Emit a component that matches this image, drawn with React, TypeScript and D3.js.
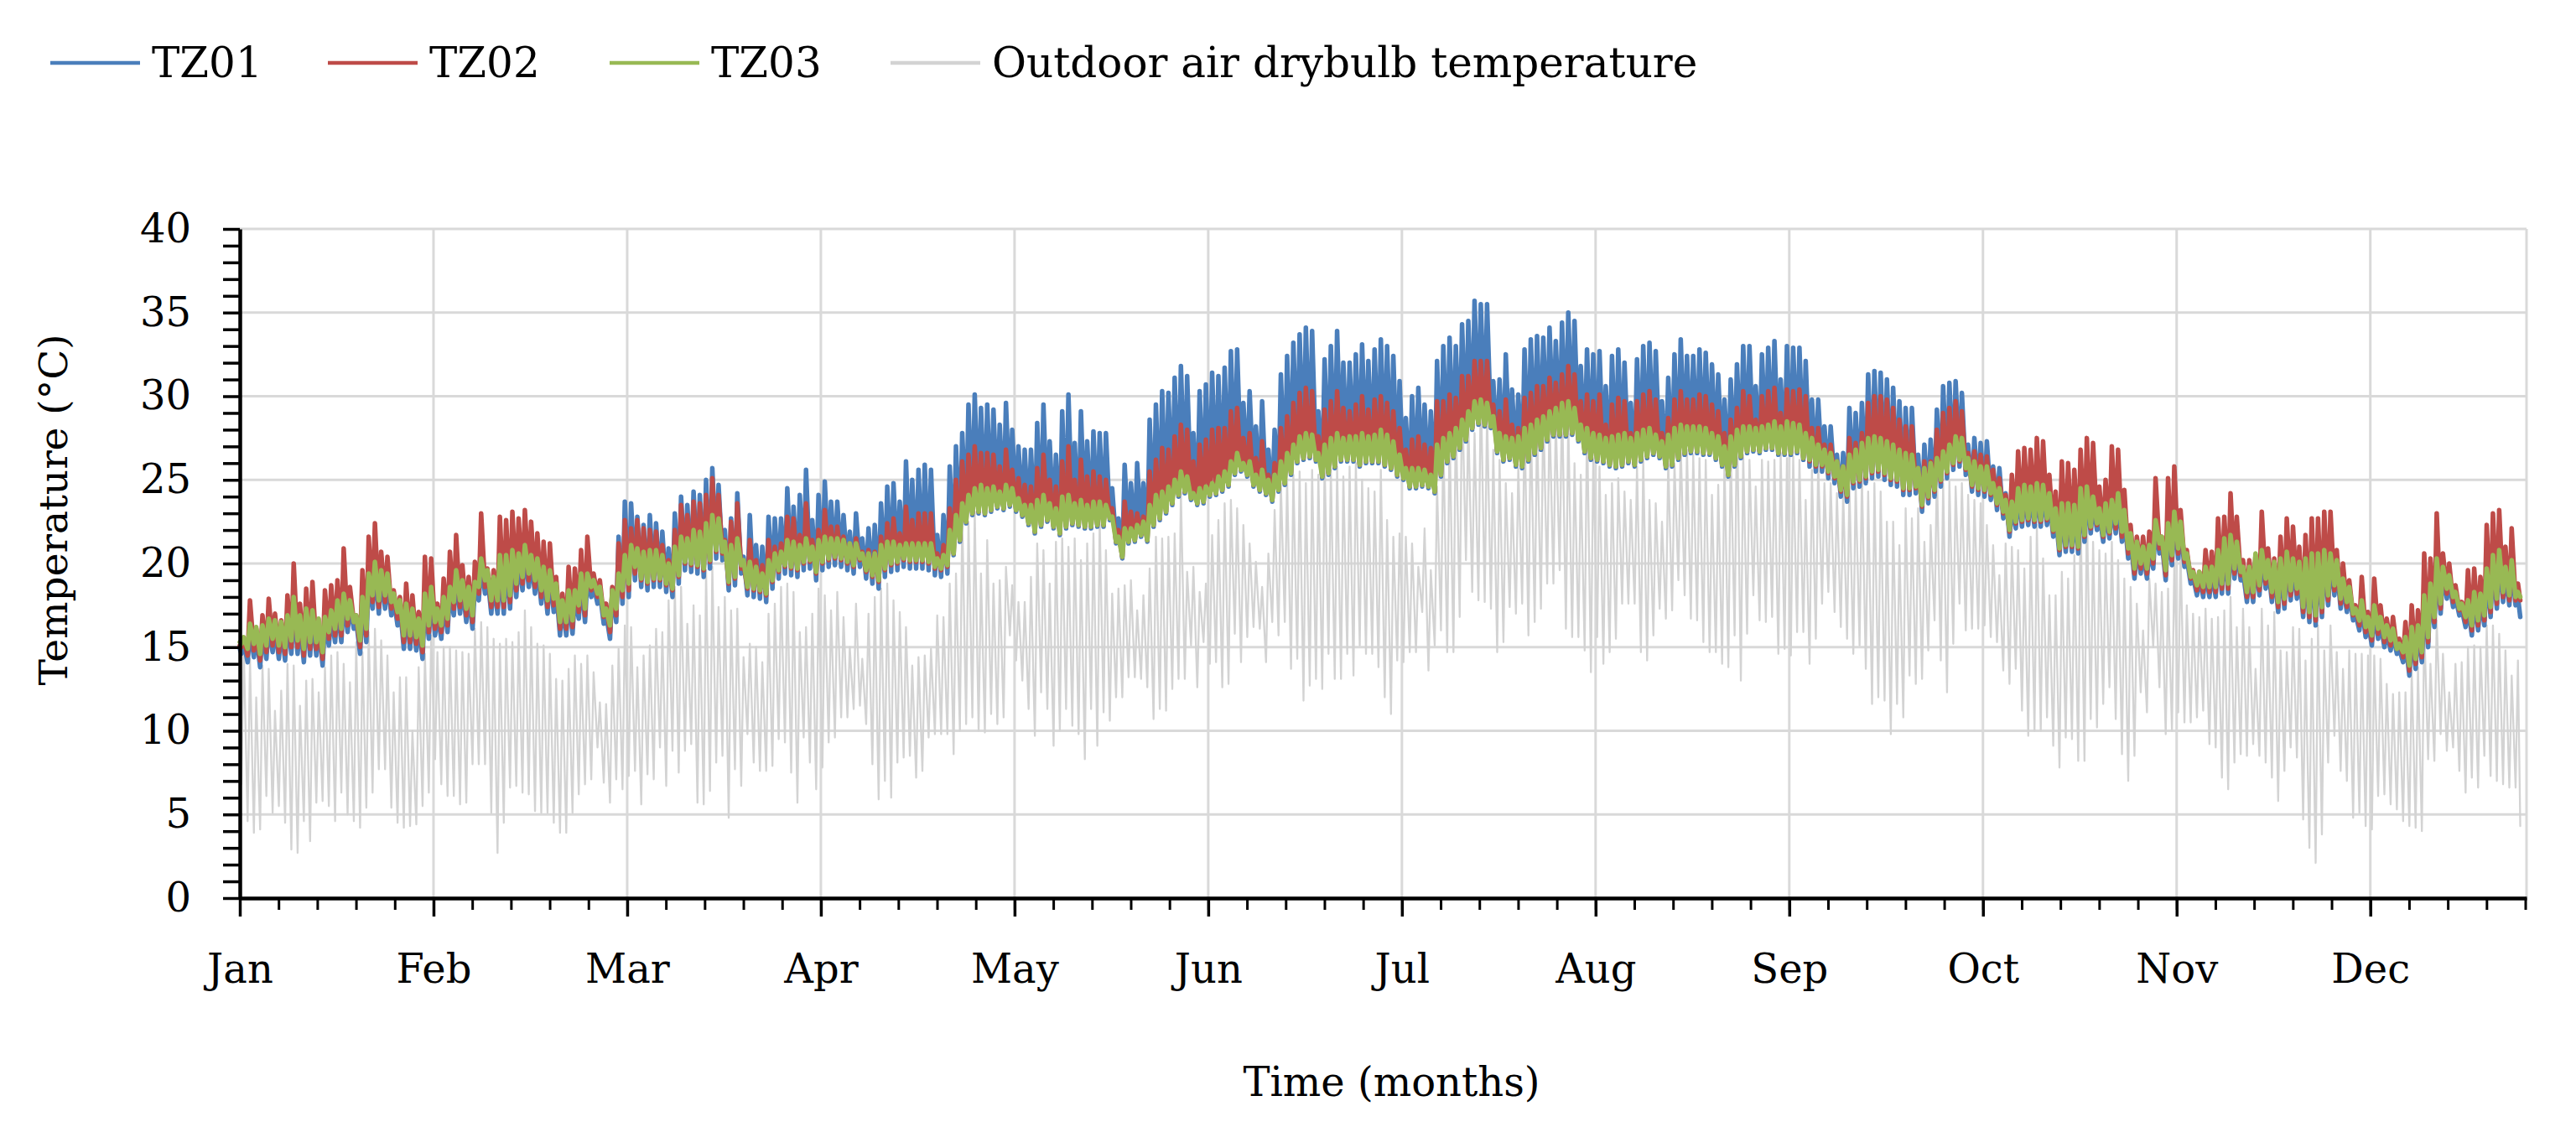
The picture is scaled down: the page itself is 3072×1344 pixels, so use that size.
import React, { useEffect, useRef } from "react";
import * as d3 from "d3";

// daily values (day 0 = 1 Jan)
// each day: minimum around 06:00, maximum around 15:00

// TZ01 (blue)
const tz01Min = [
  14.6, 14.1, 14.4, 13.8, 14.3, 14.7, 14.3, 14.2, 14.6, 14.6,
  14.1, 14.5, 14.5, 13.9, 15.1, 15.3, 15.3, 15.9, 16.1, 14.6,
  15.3, 17.3, 17.0, 17.3, 16.9, 16.3, 14.9, 14.9, 14.8, 14.3,
  15.5, 15.7, 15.5, 15.9, 16.9, 17.0, 16.5, 16.1, 17.8, 18.2,
  17.0, 17.0, 17.0, 17.3, 18.0, 18.4, 18.6, 18.2, 17.6, 17.0,
  17.1, 15.7, 15.7, 15.8, 16.7, 16.5, 18.0, 17.6, 16.4, 15.5,
  16.5, 17.6, 18.0, 19.0, 18.6, 18.4, 18.6, 18.6, 18.3, 18.0,
  18.8, 19.6, 19.5, 19.4, 19.2, 19.7, 20.3, 20.2, 18.4, 18.7,
  19.4, 18.1, 18.0, 17.9, 17.7, 18.5, 19.1, 19.4, 19.3, 19.2,
  19.6, 19.7, 19.0, 19.6, 19.8, 19.9, 19.8, 19.6, 19.4, 19.8,
  19.1, 18.8, 18.5, 19.2, 19.5, 19.6, 19.8, 19.7, 19.7, 19.7,
  19.6, 19.3, 19.2, 19.4, 20.5, 21.3, 22.4, 22.9, 23.0, 22.9,
  23.1, 23.3, 23.2, 23.4, 23.1, 22.8, 22.3, 21.8, 22.2, 22.5,
  22.1, 21.7, 22.1, 22.3, 22.2, 22.1, 22.1, 22.2, 22.2, 22.6,
  21.2, 20.3, 21.2, 21.3, 21.6, 21.3, 22.2, 22.6, 23.0, 23.5,
  24.0, 24.2, 23.8, 23.5, 23.6, 24.0, 24.1, 24.3, 24.6, 25.3,
  25.5, 25.2, 24.6, 24.3, 24.1, 23.7, 24.3, 24.7, 25.3, 26.0,
  26.2, 26.3, 26.1, 25.1, 25.3, 25.7, 26.1, 26.1, 26.1, 25.8,
  26.0, 26.0, 26.0, 25.8, 25.6, 25.2, 25.0, 24.5, 24.5, 24.6,
  24.5, 24.2, 25.2, 26.0, 26.3, 26.8, 27.3, 28.0, 28.3, 28.2,
  28.1, 26.6, 26.1, 26.2, 25.8, 25.7, 26.1, 26.5, 26.8, 27.3,
  27.6, 27.6, 27.6, 27.7, 27.3, 26.6, 26.2, 26.1, 26.0, 25.8,
  25.7, 25.8, 26.0, 25.8, 26.1, 26.3, 26.5, 26.3, 25.7, 25.8,
  26.2, 26.5, 26.6, 26.6, 26.5, 26.5, 26.2, 25.8, 25.2, 25.8,
  26.3, 26.6, 26.7, 26.6, 26.8, 26.8, 26.5, 26.5, 26.5, 26.6,
  26.2, 25.8, 25.5, 25.5, 25.1, 24.8, 24.0, 23.7, 24.5, 24.6,
  24.8, 25.1, 25.2, 25.0, 24.7, 24.6, 24.1, 24.1, 24.2, 23.1,
  23.6, 24.0, 24.6, 25.1, 25.6, 25.8, 25.3, 24.3, 24.1, 24.0,
  23.8, 23.2, 22.7, 21.6, 22.1, 22.2, 22.3, 22.2, 22.2, 22.3,
  21.6, 20.5, 20.7, 20.7, 20.6, 21.3, 21.8, 22.0, 21.3, 21.5,
  21.8, 21.3, 20.3, 19.1, 19.4, 19.1, 19.7, 20.6, 19.0, 19.9,
  20.3, 19.8, 18.8, 18.1, 18.0, 18.0, 18.0, 18.2, 18.2, 19.1,
  19.0, 17.7, 17.7, 18.1, 18.5, 17.7, 17.1, 17.3, 17.8, 17.9,
  16.8, 16.5, 16.3, 16.8, 17.5, 18.1, 17.3, 17.1, 16.6, 16.0,
  15.6, 15.1, 15.5, 15.0, 14.8, 14.6, 14.1, 13.3, 13.7, 14.1,
  15.0, 16.2, 17.0, 17.9, 17.4, 16.9, 16.2, 15.7, 16.0, 16.3,
  16.8, 17.3, 17.7, 17.5, 17.5,
];
const tz01Max = [
  15.3, 16.1, 15.9, 16.0, 16.4, 16.3, 16.2, 16.6, 17.7, 16.6,
  17.0, 16.9, 16.4, 16.5, 16.9, 17.5, 17.9, 17.5, 16.6, 17.7,
  19.1, 19.8, 19.3, 19.1, 17.9, 17.5, 17.3, 17.0, 16.4, 17.9,
  18.3, 17.0, 17.7, 18.3, 19.3, 18.7, 18.3, 18.6, 20.0, 19.3,
  18.9, 20.2, 20.2, 20.5, 20.3, 20.8, 20.2, 20.0, 19.5, 19.3,
  18.5, 17.5, 18.1, 18.1, 19.1, 19.1, 18.7, 18.3, 17.0, 18.5,
  21.6, 23.7, 23.6, 22.8, 22.3, 22.9, 22.4, 21.9, 20.9, 23.0,
  24.0, 23.5, 24.3, 24.1, 25.0, 25.7, 24.7, 22.0, 22.7, 24.2,
  20.4, 22.9, 21.1, 21.0, 22.8, 22.7, 22.7, 24.5, 23.4, 24.1,
  25.6, 22.6, 24.1, 24.9, 23.7, 23.7, 22.9, 21.9, 23.0, 21.5,
  22.1, 22.3, 23.6, 24.6, 24.8, 23.7, 26.1, 25.0, 25.6, 25.9,
  25.6, 21.7, 22.9, 25.8, 27.0, 27.8, 29.5, 30.1, 29.3, 29.5,
  29.2, 28.3, 29.6, 28.0, 27.0, 26.8, 26.8, 28.4, 29.5, 27.3,
  26.5, 29.1, 30.1, 27.2, 29.1, 27.3, 27.9, 27.8, 27.8, 24.5,
  22.7, 25.9, 24.8, 26.0, 24.8, 28.6, 29.5, 30.3, 30.2, 31.1,
  31.8, 31.2, 27.8, 30.3, 30.7, 31.4, 31.2, 31.7, 32.7, 32.8,
  29.6, 30.3, 28.2, 29.7, 26.8, 28.0, 31.3, 32.4, 33.2, 33.7,
  34.1, 33.9, 29.1, 32.2, 33.0, 33.9, 32.0, 32.0, 32.5, 33.1,
  32.1, 32.8, 33.4, 33.0, 32.4, 30.9, 28.7, 30.0, 30.5, 29.5,
  29.1, 32.1, 33.0, 33.5, 33.0, 34.3, 34.5, 35.7, 35.5, 35.5,
  30.9, 31.0, 32.5, 30.4, 30.1, 32.8, 33.4, 33.6, 33.5, 34.1,
  33.3, 34.4, 35.0, 34.5, 31.8, 32.8, 32.5, 32.7, 30.6, 32.4,
  32.8, 32.0, 29.6, 32.2, 33.0, 33.2, 32.7, 29.7, 31.1, 32.5,
  33.4, 32.4, 32.4, 32.8, 32.6, 31.9, 31.3, 29.8, 31.0, 31.9,
  33.0, 33.0, 30.6, 32.5, 32.9, 33.3, 31.0, 33.0, 32.9, 32.9,
  32.1, 29.8, 29.8, 28.2, 28.2, 26.5, 26.6, 29.3, 29.0, 29.6,
  31.3, 31.5, 31.4, 31.0, 30.5, 29.7, 29.3, 29.3, 26.5, 27.1,
  27.4, 29.2, 30.6, 30.8, 30.9, 30.2, 27.1, 27.5, 27.2, 27.3,
  25.8, 25.7, 24.2, 23.4, 24.2, 24.4, 24.3, 24.5, 24.4, 23.9,
  23.0, 23.3, 23.3, 23.2, 24.2, 24.3, 23.7, 23.0, 23.3, 23.5,
  23.9, 22.9, 21.5, 21.0, 20.7, 20.8, 22.3, 21.3, 22.1, 22.8,
  22.2, 20.3, 19.2, 19.2, 19.5, 19.5, 20.5, 21.2, 21.4, 21.0,
  19.5, 19.5, 20.3, 20.5, 19.9, 19.8, 20.0, 20.4, 20.0, 19.8,
  20.0, 20.3, 20.3, 20.5, 20.3, 19.9, 18.8, 18.3, 17.0, 17.5,
  16.5, 17.2, 16.5, 16.0, 15.8, 14.9, 15.3, 15.9, 16.0, 17.8,
  18.5, 20.0, 19.5, 19.0, 18.0, 17.3, 17.5, 18.0, 17.9, 19.4,
  20.2, 20.5, 19.5, 19.9, 18.0,
];

// TZ02 (red)
const tz02Min = [
  15.0, 14.5, 14.8, 14.2, 14.7, 15.1, 14.7, 14.6, 15.0, 15.0,
  14.5, 14.9, 14.9, 14.3, 15.5, 15.7, 15.7, 16.3, 16.5, 15.0,
  15.7, 17.7, 17.4, 17.7, 17.3, 16.7, 15.3, 15.3, 15.2, 14.7,
  15.9, 16.1, 15.9, 16.3, 17.3, 17.4, 16.9, 16.5, 18.2, 18.6,
  17.4, 17.4, 17.4, 17.7, 18.4, 18.8, 19.0, 18.6, 18.0, 17.4,
  17.5, 16.1, 16.1, 16.2, 17.1, 16.9, 18.4, 18.0, 16.8, 15.9,
  16.9, 18.0, 18.4, 19.4, 19.0, 18.8, 19.0, 19.0, 18.7, 18.4,
  19.2, 20.0, 19.9, 19.8, 19.6, 20.1, 20.7, 20.6, 18.8, 19.1,
  19.7, 18.5, 18.4, 18.3, 18.1, 18.9, 19.5, 19.8, 19.7, 19.6,
  20.0, 20.1, 19.4, 20.0, 20.2, 20.3, 20.2, 20.0, 19.8, 20.2,
  19.5, 19.2, 18.9, 19.6, 19.9, 20.0, 20.2, 20.1, 20.1, 20.1,
  20.0, 19.7, 19.6, 19.8, 20.6, 21.4, 22.5, 23.0, 23.1, 23.0,
  23.2, 23.4, 23.3, 23.5, 23.2, 22.9, 22.4, 21.9, 22.3, 22.6,
  22.2, 21.8, 22.2, 22.4, 22.3, 22.2, 22.2, 22.3, 22.3, 22.7,
  21.3, 20.4, 21.3, 21.4, 21.7, 21.4, 22.3, 22.7, 23.1, 23.6,
  24.1, 24.3, 23.9, 23.6, 23.7, 24.1, 24.2, 24.4, 24.7, 25.4,
  25.6, 25.3, 24.7, 24.4, 24.2, 23.8, 24.4, 24.8, 25.4, 26.1,
  26.3, 26.4, 26.2, 25.2, 25.4, 25.8, 26.2, 26.2, 26.2, 25.9,
  26.1, 26.1, 26.1, 25.9, 25.7, 25.3, 25.1, 24.6, 24.6, 24.7,
  24.6, 24.3, 25.3, 26.1, 26.4, 26.9, 27.4, 28.1, 28.4, 28.3,
  28.2, 26.7, 26.2, 26.3, 25.9, 25.8, 26.2, 26.6, 26.9, 27.4,
  27.7, 27.7, 27.7, 27.8, 27.4, 26.7, 26.3, 26.2, 26.1, 25.9,
  25.8, 25.9, 26.1, 25.9, 26.2, 26.4, 26.6, 26.4, 25.8, 25.9,
  26.3, 26.6, 26.7, 26.7, 26.6, 26.6, 26.3, 25.9, 25.3, 25.9,
  26.4, 26.7, 26.8, 26.7, 26.9, 26.9, 26.6, 26.6, 26.6, 26.7,
  26.3, 26.1, 25.8, 25.8, 25.4, 25.1, 24.3, 24.0, 24.8, 24.9,
  25.1, 25.4, 25.5, 25.3, 25.0, 24.9, 24.4, 24.4, 24.5, 23.4,
  23.9, 24.3, 24.9, 25.4, 25.9, 26.1, 25.6, 24.6, 24.4, 24.3,
  24.1, 23.5, 23.0, 21.9, 22.4, 22.5, 22.6, 22.5, 22.5, 22.6,
  21.9, 20.8, 21.0, 21.0, 20.9, 21.6, 22.1, 22.3, 21.6, 21.8,
  22.1, 21.6, 20.6, 19.4, 19.7, 19.4, 20.0, 20.9, 19.3, 20.2,
  20.6, 20.1, 19.1, 18.4, 18.3, 18.3, 18.3, 18.5, 18.5, 19.4,
  19.3, 18.0, 18.0, 18.4, 18.8, 18.0, 17.4, 17.6, 18.1, 18.2,
  17.1, 16.8, 16.6, 17.1, 17.8, 18.4, 17.6, 17.4, 16.9, 16.3,
  15.9, 15.4, 15.8, 15.3, 15.1, 14.9, 14.4, 13.6, 14.0, 14.4,
  15.3, 16.5, 17.3, 18.2, 17.7, 17.2, 16.5, 16.0, 16.3, 16.6,
  17.1, 17.6, 18.0, 17.8, 17.8,
];
const tz02Max = [
  15.5, 17.8, 16.1, 16.9, 17.9, 17.0, 16.6, 18.1, 20.0, 17.6,
  18.5, 18.9, 16.3, 18.4, 18.7, 19.0, 20.9, 18.6, 16.9, 19.6,
  21.6, 22.4, 20.7, 20.4, 18.4, 18.0, 18.8, 18.1, 17.1, 20.4,
  20.3, 17.6, 19.1, 20.7, 21.7, 19.9, 19.2, 20.1, 23.0, 19.7,
  19.6, 22.8, 22.6, 23.1, 22.7, 23.2, 22.5, 21.8, 21.3, 21.2,
  19.2, 18.2, 19.8, 19.7, 20.8, 21.6, 19.4, 19.0, 17.6, 18.6,
  21.2, 22.6, 22.1, 22.6, 22.1, 22.0, 21.9, 21.1, 20.2, 22.0,
  23.5, 22.9, 23.7, 23.6, 24.1, 25.1, 24.1, 21.4, 22.5, 23.6,
  20.0, 21.4, 20.2, 19.9, 21.4, 21.0, 21.2, 22.8, 22.7, 21.7,
  23.6, 21.4, 22.0, 23.2, 22.2, 22.2, 21.6, 21.2, 21.5, 20.7,
  20.8, 20.7, 21.6, 22.4, 22.7, 21.8, 23.4, 22.6, 23.0, 23.0,
  23.0, 20.6, 21.1, 23.3, 25.0, 26.1, 26.5, 27.0, 26.6, 26.6,
  26.5, 25.8, 26.8, 25.6, 25.1, 24.7, 24.6, 25.7, 26.5, 25.0,
  24.6, 26.1, 27.0, 25.0, 26.2, 25.2, 25.5, 25.2, 25.0, 23.3,
  22.0, 23.7, 23.1, 23.0, 22.8, 25.5, 26.2, 26.9, 26.8, 27.6,
  28.3, 28.0, 26.1, 27.1, 27.4, 28.0, 28.1, 28.1, 29.1, 29.3,
  27.5, 27.8, 26.3, 27.3, 25.3, 26.0, 28.1, 28.8, 29.6, 30.2,
  30.5, 30.3, 27.6, 29.2, 29.7, 30.3, 29.3, 29.1, 29.5, 30.0,
  29.2, 29.8, 30.0, 29.6, 29.1, 28.1, 26.8, 27.4, 27.6, 27.1,
  26.9, 29.7, 29.7, 30.1, 29.9, 31.2, 31.2, 32.1, 32.1, 32.1,
  29.5, 29.1, 29.8, 28.3, 28.1, 29.9, 30.2, 30.6, 30.6, 31.1,
  30.8, 31.3, 31.8, 31.3, 29.7, 30.1, 29.7, 30.1, 28.3, 29.5,
  29.9, 29.7, 27.8, 29.7, 30.1, 30.3, 29.8, 27.8, 28.7, 29.8,
  30.3, 29.8, 29.8, 30.1, 30.0, 29.5, 29.1, 27.8, 28.6, 29.3,
  30.3, 30.0, 28.6, 30.0, 30.3, 30.5, 29.0, 30.4, 30.3, 30.4,
  30.0, 28.1, 28.1, 27.1, 27.1, 26.1, 25.8, 27.5, 27.2, 27.8,
  29.6, 30.0, 30.0, 29.8, 29.3, 28.6, 28.2, 28.2, 25.7, 26.1,
  26.1, 28.0, 29.0, 29.3, 29.7, 29.1, 26.6, 26.7, 26.5, 26.4,
  25.6, 25.1, 24.1, 25.3, 26.7, 26.9, 26.8, 27.5, 27.3, 25.3,
  24.3, 26.1, 26.0, 25.6, 26.8, 27.5, 27.2, 24.6, 25.0, 27.0,
  26.8, 24.4, 22.3, 21.6, 21.6, 21.9, 25.1, 21.6, 25.1, 25.8,
  23.2, 20.8, 19.6, 19.5, 20.8, 20.7, 22.7, 22.8, 24.2, 22.8,
  20.2, 20.2, 20.5, 23.1, 20.9, 20.3, 21.6, 22.7, 22.2, 21.0,
  21.7, 22.7, 22.7, 23.1, 23.1, 20.8, 20.0, 19.0, 17.5, 19.2,
  17.1, 19.1, 17.5, 16.7, 16.8, 15.5, 16.5, 17.5, 17.2, 20.6,
  20.3, 23.0, 20.6, 20.0, 18.7, 17.7, 19.6, 19.7, 19.2, 22.3,
  23.0, 23.2, 21.0, 22.1, 18.8,
];

// TZ03 (green)
const tz03Min = [
  15.2, 14.9, 15.2, 14.6, 15.1, 15.5, 15.1, 15.0, 15.4, 15.4,
  14.9, 15.3, 15.3, 14.7, 15.9, 16.1, 16.1, 16.7, 16.5, 15.4,
  16.1, 18.1, 17.8, 18.1, 17.7, 17.1, 15.7, 15.7, 15.6, 15.1,
  16.3, 16.5, 16.3, 16.7, 17.7, 17.8, 17.3, 16.9, 18.6, 19.0,
  17.8, 17.8, 17.8, 18.1, 18.8, 19.2, 19.4, 19.0, 18.4, 17.8,
  17.9, 16.5, 16.5, 16.6, 17.5, 17.3, 18.6, 18.2, 16.9, 16.3,
  17.3, 18.4, 18.8, 19.8, 19.1, 18.9, 19.1, 19.1, 18.8, 18.5,
  19.3, 20.1, 20.0, 19.9, 19.7, 20.2, 20.8, 20.7, 18.9, 19.2,
  19.9, 18.6, 18.5, 18.4, 18.2, 19.0, 19.6, 19.9, 19.8, 19.7,
  20.1, 20.2, 19.5, 20.1, 20.3, 20.4, 20.3, 20.1, 19.9, 20.3,
  19.6, 19.3, 19.0, 19.7, 20.0, 20.1, 20.3, 20.2, 20.2, 20.2,
  20.1, 19.8, 19.7, 19.9, 20.6, 21.4, 22.5, 23.0, 23.1, 23.0,
  23.2, 23.4, 23.3, 23.5, 23.2, 22.9, 22.4, 21.9, 22.3, 22.6,
  22.2, 21.8, 22.2, 22.4, 22.3, 22.2, 22.2, 22.3, 22.3, 22.7,
  21.3, 20.4, 21.3, 21.4, 21.7, 21.4, 22.3, 22.7, 23.1, 23.6,
  24.1, 24.3, 23.9, 23.6, 23.7, 24.1, 24.2, 24.4, 24.7, 25.4,
  25.6, 25.3, 24.7, 24.4, 24.2, 23.8, 24.4, 24.8, 25.4, 26.1,
  26.3, 26.4, 26.2, 25.2, 25.4, 25.8, 26.2, 26.2, 26.2, 25.9,
  26.1, 26.1, 26.1, 25.9, 25.7, 25.3, 25.1, 24.6, 24.6, 24.7,
  24.6, 24.3, 25.3, 26.1, 26.4, 26.9, 27.4, 28.1, 28.4, 28.3,
  28.2, 26.7, 26.2, 26.3, 25.9, 25.8, 26.2, 26.6, 26.9, 27.4,
  27.7, 27.7, 27.7, 27.8, 27.4, 26.7, 26.3, 26.2, 26.1, 25.9,
  25.8, 25.9, 26.1, 25.9, 26.2, 26.4, 26.6, 26.4, 25.8, 25.9,
  26.3, 26.6, 26.7, 26.7, 26.6, 26.6, 26.3, 25.9, 25.3, 25.9,
  26.4, 26.7, 26.8, 26.7, 26.9, 26.9, 26.6, 26.6, 26.6, 26.7,
  26.3, 26.2, 25.9, 25.9, 25.5, 25.2, 24.4, 24.1, 24.9, 25.0,
  25.2, 25.5, 25.6, 25.4, 25.1, 25.0, 24.5, 24.5, 24.6, 23.5,
  24.0, 24.4, 25.0, 25.5, 26.0, 26.2, 25.7, 24.7, 24.5, 24.4,
  24.2, 23.6, 23.1, 22.0, 22.5, 22.6, 22.7, 22.6, 22.6, 22.7,
  22.0, 20.9, 21.1, 21.1, 21.0, 21.7, 22.2, 22.4, 21.7, 21.9,
  22.4, 21.9, 20.9, 19.7, 20.0, 19.7, 20.3, 21.2, 19.6, 20.5,
  20.9, 20.3, 19.2, 18.7, 18.6, 18.6, 18.6, 18.8, 18.8, 19.7,
  19.5, 18.3, 18.3, 18.7, 19.1, 18.3, 17.7, 17.9, 18.4, 18.5,
  17.4, 17.1, 16.9, 17.4, 18.1, 18.7, 17.9, 17.7, 17.0, 16.6,
  16.2, 15.7, 16.1, 15.6, 15.4, 14.9, 14.7, 13.9, 14.3, 14.7,
  15.6, 16.8, 17.6, 18.5, 18.0, 17.3, 16.8, 16.3, 16.6, 16.9,
  17.4, 17.9, 18.3, 18.1, 18.0,
];
const tz03Max = [
  15.6, 16.4, 16.2, 16.3, 16.7, 16.6, 16.5, 16.9, 18.0, 16.9,
  17.3, 17.2, 16.7, 16.8, 17.2, 17.8, 18.2, 17.8, 16.9, 18.0,
  19.4, 20.1, 19.6, 19.4, 18.2, 17.8, 17.6, 17.3, 16.7, 18.2,
  18.6, 17.3, 18.0, 18.6, 19.6, 19.0, 18.6, 18.9, 20.3, 19.6,
  19.2, 20.5, 20.5, 20.8, 20.6, 21.1, 20.5, 20.3, 19.8, 19.6,
  18.8, 17.8, 18.4, 18.4, 19.4, 19.4, 19.0, 18.6, 17.3, 18.4,
  19.4, 20.5, 21.1, 20.9, 20.7, 20.8, 20.8, 20.5, 20.0, 21.0,
  21.6, 21.5, 22.0, 21.9, 22.4, 22.9, 22.7, 21.3, 21.1, 21.5,
  20.2, 20.1, 19.8, 19.4, 20.2, 20.6, 20.7, 21.4, 21.3, 21.1,
  21.5, 21.0, 21.4, 21.6, 21.5, 21.5, 21.4, 21.2, 21.2, 20.6,
  20.6, 20.6, 21.1, 21.3, 21.3, 21.1, 21.2, 21.2, 21.2, 21.2,
  21.2, 20.3, 20.5, 22.0, 22.9, 23.6, 24.1, 24.5, 24.7, 24.5,
  24.6, 24.3, 24.7, 24.5, 23.9, 23.5, 23.5, 23.8, 24.1, 23.6,
  23.3, 24.0, 24.1, 23.6, 23.8, 23.5, 23.7, 23.7, 23.5, 22.8,
  21.6, 22.1, 22.1, 22.3, 22.5, 23.5, 24.1, 24.3, 24.6, 25.0,
  25.5, 25.2, 24.2, 24.5, 24.6, 24.8, 25.2, 25.5, 26.1, 26.6,
  26.0, 26.1, 25.3, 25.6, 25.0, 25.3, 26.1, 26.6, 27.1, 27.6,
  27.8, 27.7, 26.6, 27.1, 27.5, 27.8, 27.5, 27.6, 27.6, 27.8,
  27.6, 27.7, 28.0, 27.7, 27.3, 26.5, 25.7, 25.7, 25.7, 25.6,
  25.3, 27.1, 27.5, 27.8, 28.1, 28.6, 29.1, 29.7, 29.8, 29.6,
  28.8, 27.8, 27.6, 27.5, 27.6, 28.1, 28.3, 28.6, 28.8, 29.1,
  29.3, 29.6, 29.7, 29.3, 28.3, 28.1, 27.8, 27.7, 27.5, 27.6,
  27.7, 27.8, 27.5, 27.8, 28.0, 28.1, 27.7, 27.3, 27.7, 28.1,
  28.3, 28.2, 28.2, 28.2, 28.1, 27.8, 27.6, 27.0, 27.6, 28.0,
  28.2, 28.2, 28.1, 28.2, 28.3, 28.5, 28.2, 28.5, 28.4, 28.3,
  27.8, 27.5, 27.1, 26.8, 26.6, 26.1, 25.8, 26.5, 26.8, 27.2,
  27.5, 27.6, 27.5, 27.3, 27.1, 26.8, 26.6, 26.5, 25.7, 25.7,
  26.0, 26.3, 26.7, 27.1, 27.6, 27.5, 26.3, 26.1, 25.8, 25.8,
  24.8, 24.5, 23.8, 23.7, 24.5, 24.7, 24.6, 24.8, 24.7, 24.2,
  23.3, 23.6, 23.6, 23.5, 24.5, 24.6, 24.0, 23.3, 23.6, 23.8,
  24.2, 23.2, 21.8, 21.3, 21.0, 21.1, 22.6, 21.6, 22.4, 23.1,
  22.5, 20.6, 19.5, 19.5, 19.8, 19.8, 20.8, 21.5, 21.7, 21.3,
  19.8, 19.8, 20.6, 20.8, 20.2, 20.1, 20.3, 20.7, 20.3, 20.1,
  20.3, 20.6, 20.6, 20.8, 20.6, 20.2, 19.1, 18.6, 17.3, 17.8,
  16.8, 17.5, 16.8, 16.3, 16.1, 15.2, 15.6, 16.2, 16.3, 18.1,
  18.8, 20.3, 19.8, 19.3, 18.3, 17.6, 17.8, 18.3, 18.2, 19.7,
  20.5, 20.8, 19.8, 20.2, 18.3,
];

// Outdoor air drybulb temperature (grey)
const outdoorMin = [
  6.8, 4.6, 3.9, 4.1, 6.1, 5.1, 5.5, 4.5, 2.9, 2.7,
  4.6, 3.4, 5.7, 5.8, 5.5, 4.6, 6.3, 5.0, 4.6, 4.2,
  5.4, 6.3, 7.7, 7.7, 5.4, 4.5, 4.2, 4.3, 4.4, 5.5,
  6.3, 8.3, 6.8, 6.1, 6.1, 5.6, 5.7, 8.0, 8.0, 8.0,
  5.1, 2.7, 4.5, 6.6, 6.7, 6.3, 6.2, 5.2, 5.1, 5.1,
  4.5, 3.9, 3.9, 5.1, 6.2, 6.8, 7.1, 9.0, 6.9, 5.7,
  7.1, 6.5, 7.3, 7.6, 5.6, 7.4, 7.1, 9.0, 6.7, 8.8,
  7.5, 8.8, 9.2, 5.7, 5.6, 6.4, 8.1, 8.5, 4.8, 7.7,
  6.7, 9.8, 8.1, 7.6, 7.6, 7.9, 9.5, 9.3, 7.5, 5.7,
  9.6, 8.1, 6.5, 7.8, 9.3, 9.6, 10.8, 10.8, 11.3, 11.5,
  10.4, 8.0, 5.9, 7.0, 6.0, 8.1, 8.4, 8.5, 7.2, 7.6,
  9.6, 9.8, 9.8, 9.8, 8.6, 10.0, 10.4, 10.8, 10.0, 9.9,
  11.0, 10.4, 10.8, 15.7, 14.2, 13.0, 11.3, 9.7, 12.3, 11.3,
  9.1, 10.0, 11.3, 10.3, 9.8, 8.3, 11.3, 9.1, 11.1, 10.6,
  12.0, 12.0, 13.2, 13.2, 13.1, 12.6, 10.7, 11.3, 11.2, 12.5,
  13.1, 13.1, 15.1, 12.6, 15.3, 14.0, 14.1, 12.6, 12.8, 15.8,
  14.1, 15.6, 16.2, 16.1, 14.1, 16.5, 15.7, 16.5, 13.7, 14.3,
  11.8, 12.7, 13.1, 12.5, 14.6, 13.1, 13.1, 14.6, 13.3, 15.1,
  14.6, 14.6, 13.8, 12.0, 11.0, 14.2, 14.1, 14.7, 14.7, 17.1,
  13.6, 15.1, 16.0, 14.7, 14.7, 16.8, 20.2, 18.3, 17.8, 17.7,
  17.3, 14.7, 15.3, 17.4, 17.0, 17.6, 15.7, 16.5, 17.3, 18.8,
  18.8, 19.6, 16.1, 15.6, 15.6, 14.8, 13.5, 15.6, 14.0, 14.7,
  15.5, 17.6, 17.6, 17.6, 14.7, 14.2, 15.7, 17.3, 16.7, 17.2,
  19.0, 18.1, 16.7, 16.6, 15.3, 14.7, 14.7, 14.0, 13.8, 15.7,
  13.0, 15.8, 18.1, 16.6, 16.5, 16.8, 14.6, 14.9, 14.5, 15.9,
  15.9, 14.0, 15.5, 17.6, 18.3, 17.1, 16.2, 15.5, 14.6, 15.1,
  13.7, 11.6, 12.0, 11.8, 9.8, 11.6, 10.8, 13.3, 12.8, 13.1,
  14.8, 16.6, 14.2, 12.3, 15.2, 17.6, 16.0, 16.1, 16.1, 16.3,
  15.6, 15.3, 13.6, 12.8, 13.7, 11.2, 9.7, 10.0, 10.0, 10.8,
  9.1, 7.8, 9.6, 9.5, 8.2, 8.2, 10.7, 10.2, 11.6, 12.6,
  10.7, 8.6, 7.0, 8.5, 12.3, 11.1, 15.0, 12.6, 9.8, 10.0,
  11.1, 10.5, 10.5, 10.8, 11.2, 9.2, 9.0, 7.2, 6.5, 8.1,
  8.6, 8.5, 9.2, 8.5, 8.1, 7.2, 5.8, 7.6, 9.0, 8.4,
  4.7, 3.0, 2.1, 3.8, 8.1, 9.7, 7.6, 7.0, 4.8, 5.1,
  4.3, 4.1, 6.1, 6.2, 5.6, 5.3, 4.6, 4.3, 4.2, 4.0,
  8.3, 8.2, 9.8, 8.8, 9.0, 7.6, 6.3, 7.2, 6.6, 8.5,
  7.3, 7.0, 6.8, 6.6, 6.6,
];
const outdoorMax = [
  15.0, 14.3, 12.0, 13.9, 13.7, 11.2, 12.4, 14.0, 13.9, 11.5,
  13.0, 13.1, 12.3, 13.8, 14.5, 14.7, 14.0, 12.9, 15.3, 14.7,
  15.9, 16.1, 15.4, 14.5, 12.3, 13.2, 13.2, 10.0, 13.8, 14.6,
  15.7, 14.7, 15.0, 15.0, 14.8, 14.7, 14.6, 16.1, 16.5, 16.2,
  15.5, 15.2, 15.5, 15.3, 15.9, 17.2, 16.2, 15.2, 15.1, 14.6,
  13.1, 13.0, 13.7, 14.5, 14.0, 14.5, 13.5, 11.7, 11.6, 13.9,
  14.9, 16.3, 16.2, 13.8, 14.5, 15.1, 16.1, 15.9, 17.8, 18.6,
  18.6, 16.4, 17.5, 16.9, 19.6, 19.8, 17.4, 18.0, 17.2, 17.3,
  14.4, 15.2, 15.0, 14.1, 17.0, 17.6, 18.6, 18.8, 18.3, 15.9,
  16.2, 17.0, 18.5, 18.1, 17.2, 18.3, 16.8, 15.0, 17.6, 14.3,
  17.0, 18.0, 18.5, 18.8, 17.8, 17.1, 16.2, 13.9, 14.4, 14.5,
  14.9, 16.9, 16.8, 18.8, 19.4, 22.9, 22.5, 23.1, 19.4, 21.4,
  18.8, 19.0, 19.8, 18.7, 17.7, 17.7, 19.2, 21.2, 20.8, 18.8,
  21.3, 21.5, 21.0, 21.5, 20.2, 21.2, 21.8, 22.6, 20.8, 18.2,
  18.5, 18.7, 19.0, 17.2, 18.1, 19.7, 21.6, 21.5, 21.6, 21.8,
  24.3, 19.5, 19.8, 18.3, 18.8, 21.7, 22.6, 23.6, 23.8, 23.3,
  22.3, 21.2, 20.1, 18.6, 20.6, 23.2, 24.8, 25.0, 25.3, 25.5,
  24.8, 25.6, 25.3, 26.1, 25.6, 25.8, 25.2, 25.8, 26.0, 25.0,
  24.5, 24.3, 25.6, 22.6, 21.6, 21.8, 21.6, 21.2, 19.8, 22.1,
  19.6, 24.6, 27.6, 28.1, 29.0, 30.3, 28.5, 27.8, 30.8, 29.1,
  26.8, 26.2, 24.8, 24.2, 25.7, 28.6, 28.8, 28.3, 29.3, 29.0,
  28.7, 30.1, 28.6, 26.0, 25.3, 28.6, 26.3, 25.8, 24.1, 24.8,
  25.1, 24.3, 23.8, 25.8, 26.2, 23.8, 23.6, 22.5, 26.1, 26.0,
  27.1, 26.8, 26.5, 26.3, 26.2, 24.1, 24.7, 26.2, 26.8, 29.2,
  26.5, 26.2, 24.6, 26.2, 26.1, 26.2, 26.6, 26.3, 26.4, 26.2,
  23.8, 25.6, 26.0, 24.8, 24.8, 24.2, 24.3, 24.6, 24.8, 25.3,
  24.3, 24.8, 24.3, 22.5, 22.5, 21.1, 23.3, 22.7, 23.3, 21.3,
  22.3, 25.6, 24.8, 24.9, 24.6, 24.8, 24.1, 23.8, 23.6, 22.3,
  21.1, 19.3, 21.2, 21.0, 20.8, 19.7, 21.6, 22.3, 20.3, 18.1,
  18.1, 19.5, 19.1, 20.5, 23.1, 23.3, 21.3, 20.8, 20.6, 21.3,
  20.2, 19.1, 18.6, 17.6, 16.0, 19.1, 18.8, 18.3, 18.5, 20.0,
  20.6, 17.5, 17.0, 16.8, 17.3, 16.7, 16.8, 17.2, 18.0, 16.2,
  17.3, 16.2, 13.7, 17.3, 16.3, 17.1, 14.8, 14.7, 16.2, 16.1,
  14.2, 15.5, 16.3, 14.8, 16.3, 14.7, 13.7, 14.8, 14.6, 14.6,
  14.5, 14.5, 14.3, 12.8, 12.2, 12.3, 12.3, 13.6, 13.8, 16.3,
  14.0, 16.6, 14.6, 12.3, 14.0, 14.1, 15.0, 15.1, 15.0, 16.3,
  16.3, 15.8, 14.8, 13.3, 14.2,
];

// values at 00:00 on 1 Jan and at the last hour of the year
const startValues = [14.9, 15.1, 15.3, 13.5];
const endValues = [16.8, 17.8, 18.0, 4.3];

const months = ["Jan", "Feb", "Mar", "Apr", "May", "Jun", "Jul", "Aug", "Sep", "Oct", "Nov", "Dec"];
const seriesNames = ["TZ01", "TZ02", "TZ03", "Outdoor air drybulb temperature"];
const seriesColors = ["#4a7ebb", "#be4b48", "#98b954", "#d3d3d3"];

const W = 3072;
const H = 1344;
const margin = { top: 273, right: 59, bottom: 273, left: 286 };
const AXIS_END = 8784; // hours shown on the x axis
const MONTH_STEP = 744; // hours between month ticks
const FONT = "'DejaVu Serif', serif";

function dailyPoints(mins: number[], maxs: number[], start: number, end: number) {
  const pts: [number, number][] = [[0, start]];
  mins.forEach((mn, d) => {
    pts.push([d * 24 + 6, mn]);
    pts.push([d * 24 + 15, maxs[d]]);
  });
  pts.push([8760, end]);
  return pts;
}

export default function App() {
  const ref = useRef<SVGSVGElement>(null);

  useEffect(() => {
    const svg = d3.select(ref.current);
    svg.selectAll("*").remove();

    const x = d3.scaleLinear().domain([0, AXIS_END]).range([margin.left, W - margin.right]);
    const y = d3.scaleLinear().domain([0, 40]).range([H - margin.bottom, margin.top]);

    // gridlines
    const gridH = svg.append("g");
    gridH
      .selectAll("line")
      .data(d3.range(5, 41, 5))
      .join("line")
      .attr("x1", x(0))
      .attr("x2", x(AXIS_END))
      .attr("y1", (d) => y(d))
      .attr("y2", (d) => y(d))
      .attr("stroke", "#d9d9d9")
      .attr("stroke-width", 3);
    const gridV = svg.append("g");
    gridV
      .selectAll("line")
      .data(d3.range(1, 12).map((i) => i * MONTH_STEP).concat([AXIS_END]))
      .join("line")
      .attr("x1", (d) => x(d))
      .attr("x2", (d) => x(d))
      .attr("y1", y(0))
      .attr("y2", y(40))
      .attr("stroke", "#d9d9d9")
      .attr("stroke-width", 3);

    // series
    const series = [
      dailyPoints(outdoorMin, outdoorMax, startValues[3], endValues[3]),
      dailyPoints(tz01Min, tz01Max, startValues[0], endValues[0]),
      dailyPoints(tz02Min, tz02Max, startValues[1], endValues[1]),
      dailyPoints(tz03Min, tz03Max, startValues[2], endValues[2]),
    ];
    const colors = [seriesColors[3], seriesColors[0], seriesColors[1], seriesColors[2]];
    const widths = [2.3, 5.5, 5.5, 5.5];
    const line = d3
      .line<[number, number]>()
      .x((d) => x(d[0]))
      .y((d) => y(d[1]));
    series.forEach((pts, i) => {
      svg
        .append("path")
        .datum(pts)
        .attr("d", line)
        .attr("fill", "none")
        .attr("stroke", colors[i])
        .attr("stroke-width", widths[i])
        .attr("stroke-linejoin", "round")
        .attr("stroke-linecap", "round");
    });

    // y axis
    const yAxis = d3
      .axisLeft(y)
      .tickValues(d3.range(0, 41))
      .tickSize(20)
      .tickSizeOuter(0)
      .tickPadding(38)
      .tickFormat((d: any) => (d % 5 === 0 ? String(d) : ""));
    const gy = svg.append("g").attr("transform", `translate(${margin.left},0)`).call(yAxis);
    gy.select(".domain").attr("stroke", "#000").attr("stroke-width", 4.5);
    gy.selectAll(".tick line").attr("stroke", "#000").attr("stroke-width", 3.5);
    gy.selectAll("text").attr("font-family", FONT).attr("font-size", 48).attr("fill", "#000");

    // x axis: minor ticks then month ticks with labels
    const xMinor = d3
      .axisBottom(x)
      .tickValues(d3.range(0, 60).map((i) => (i * MONTH_STEP) / 5))
      .tickSize(14)
      .tickSizeOuter(0)
      .tickFormat(() => "");
    const gxm = svg.append("g").attr("transform", `translate(0,${y(0)})`).call(xMinor);
    gxm.select(".domain").remove();
    gxm.selectAll(".tick line").attr("stroke", "#000").attr("stroke-width", 3);

    const xMajor = d3
      .axisBottom(x)
      .tickValues(d3.range(0, 12).map((i) => i * MONTH_STEP))
      .tickSize(22)
      .tickSizeOuter(0)
      .tickPadding(45)
      .tickFormat((d: any, i: number) => months[i]);
    const gx = svg.append("g").attr("transform", `translate(0,${y(0)})`).call(xMajor);
    gx.select(".domain").attr("stroke", "#000").attr("stroke-width", 4.5);
    gx.selectAll(".tick line").attr("stroke", "#000").attr("stroke-width", 3.5);
    gx.selectAll("text").attr("font-family", FONT).attr("font-size", 48).attr("fill", "#000");

    // axis titles
    svg
      .append("text")
      .attr("x", (x(0) + x(AXIS_END)) / 2 + 10)
      .attr("y", 1307)
      .attr("text-anchor", "middle")
      .attr("font-family", FONT)
      .attr("font-size", 48)
      .text("Time (months)");
    svg
      .append("text")
      .attr("transform", "translate(80,608) rotate(-90)")
      .attr("text-anchor", "middle")
      .attr("font-family", FONT)
      .attr("font-size", 47)
      .text("Temperature (°C)");

    // legend
    const legendLineX = [60, 391, 727, 1062];
    const legend = svg
      .append("g")
      .selectAll("g")
      .data(seriesNames)
      .join("g")
      .attr("transform", (d, i) => `translate(${legendLineX[i]},75)`);
    legend
      .append("line")
      .attr("x1", 0)
      .attr("x2", 107)
      .attr("stroke", (d, i) => seriesColors[i])
      .attr("stroke-width", 4.5);
    legend
      .append("text")
      .attr("x", 121)
      .attr("y", 17)
      .attr("font-family", FONT)
      .attr("font-size", 50)
      .text((d) => d);
  }, []);

  return (
    <svg
      ref={ref}
      width={W}
      height={H}
      viewBox={`0 0 ${W} ${H}`}
      style={{ position: "absolute", left: 0, top: 0, background: "#fff" }}
    />
  );
}
